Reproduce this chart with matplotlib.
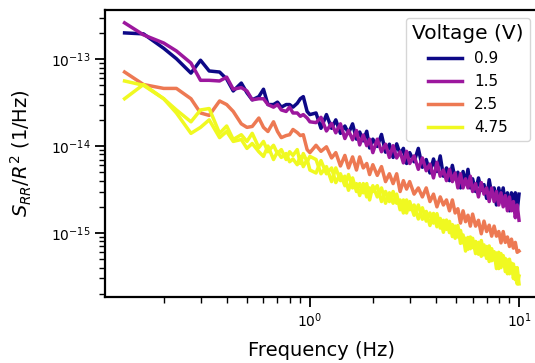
import numpy as np
import matplotlib
matplotlib.use('Agg')
from matplotlib import pyplot as plt

# frequency grid (Hz)
freq = [0.13, 0.16, 0.2, 0.23, 0.27, 0.3, 0.33, 0.37, 0.4, 0.43, 0.47, 0.5, 0.53, 0.57,
        0.6, 0.63, 0.67, 0.7, 0.73, 0.77, 0.8, 0.83, 0.87, 0.9, 0.93, 0.97, 1.0,
        1.07, 1.13, 1.2, 1.27, 1.33, 1.4, 1.47, 1.53, 1.6, 1.67, 1.73, 1.8, 1.87, 1.93, 2.0,
        2.1, 2.2, 2.3, 2.4, 2.5, 2.6, 2.7, 2.8, 2.9, 3.0,
        3.15, 3.3, 3.45, 3.6, 3.75, 3.9, 4.05, 4.2, 4.35, 4.5, 4.65, 4.8, 4.95, 5.1,
        5.25, 5.4, 5.55, 5.7, 5.85, 6.0,
        6.2, 6.4, 6.6, 6.8, 7.0, 7.2, 7.4, 7.6, 7.8, 8.0, 8.2, 8.4, 8.6, 8.8, 9.0,
        9.2, 9.4, 9.6, 9.8, 10.0]

# normalised noise spectra, in units of 1e-15 1/Hz
s_09 = [200, 195, 133, 101, 69, 97, 73, 71, 59, 43, 53, 41, 34, 37,
        45, 30, 30, 32, 28, 30, 30, 28, 31, 35, 37, 25, 23,
        24, 16, 23, 16, 20, 14, 17, 14, 18, 12, 14.5, 11.5, 14.8, 9.5, 12,
        9.9, 13.6, 8.5, 10.5, 7.4, 10.6, 8.1, 9.4, 6.3, 8.4,
        6.6, 9.4, 5.7, 7.0, 4.9, 7.1, 5.1, 7.7, 4.5, 5.6, 4.0, 6.0, 4.2, 5.0,
        3.3, 5.1, 3.7, 5.4, 3.3, 4.2,
        3.0, 4.3, 3.1, 3.6, 2.5, 4.1, 2.8, 3.3, 2.1, 3.3, 2.4, 3.3, 2.1, 2.9, 1.8,
        2.9, 2.0, 2.9, 1.8, 2.8]

s_15 = [261, 190, 153, 124, 90, 57, 57, 56, 62, 45, 47, 43, 34, 35,
        35, 30, 28, 30, 26, 25, 28, 24, 24, 22, 23, 21, 19,
        18.6, 21.4, 14.9, 18.2, 14.2, 18, 12.2, 15.1, 11.8, 15.1, 10.3, 13.4, 10.1, 12, 8.4,
        12, 8.6, 10.5, 7.4, 10.1, 7.3, 8.6, 6.4, 8.7, 6.3,
        7.7, 5.4, 7.3, 5.2, 6.2, 4.3, 6.5, 4.5, 5.3, 4.0, 5.4, 3.9, 4.9, 3.3,
        4.8, 3.3, 4.2, 3.3, 4.5, 3.0,
        3.7, 2.6, 3.8, 2.8, 3.3, 2.3, 3.3, 2.3, 3.0, 2.1, 2.9, 2.0, 2.7, 1.8, 2.6,
        1.8, 2.3, 1.5, 2.1, 1.4]

s_25 = [71, 51, 46, 46, 35, 24, 22.5, 33, 30, 25, 18, 16.4, 16.8, 21,
        16.4, 14.7, 19, 14.7, 12.5, 13.2, 13.5, 15.5, 14.3, 13.2, 13.5, 9.1, 8.4,
        10.2, 8.7, 9.8, 7.3, 8.4, 5.9, 7.8, 5.6, 7.5, 5.3, 7.5, 5.6, 6.3, 4.7, 6.1,
        4.6, 5.8, 3.9, 4.8, 3.7, 4.8, 3.0, 4.0, 3.2, 3.9,
        2.8, 3.3, 2.6, 3.3, 2.3, 2.8, 2.0, 2.6, 2.1, 2.4, 1.8, 2.4, 1.7, 1.9,
        1.3, 1.8, 1.35, 1.6, 1.2, 1.65,
        1.2, 1.4, 0.98, 1.37, 1.04, 1.23, 0.92, 1.2, 0.92, 1.04, 0.77, 1.04, 0.78, 0.9, 0.7,
        0.85, 0.67, 0.78, 0.6, 0.62]

s_475a = [56, 50, 35, 24, 14, 16.4, 20, 12.5, 14.7, 11.3, 11.9, 9.4, 10.7, 8.6,
          7.6, 10, 7.0, 8.6, 7.4, 8.2, 6.6, 7.1, 6.1, 7.6, 5.8, 7.0, 5.3,
          4.9, 6.8, 4.8, 5.6, 3.8, 4.8, 3.5, 4.7, 3.3, 3.7, 2.7, 3.7, 2.6, 3.3, 3.0,
          3.5, 2.3, 3.0, 2.3, 3.0, 2.2, 2.4, 1.7, 2.4, 1.85,
          2.1, 1.45, 1.95, 1.37, 1.7, 1.3, 1.67, 1.14, 1.4, 1.1, 1.36, 0.91, 1.2, 0.9,
          1.07, 0.77, 0.87, 0.65, 0.9, 0.68,
          0.8, 0.57, 0.82, 0.56, 0.7, 0.47, 0.66, 0.49, 0.59, 0.39, 0.58, 0.42, 0.51, 0.34, 0.5,
          0.35, 0.44, 0.29, 0.4, 0.26]

s_475b = [35, 51, 35, 26, 19, 26, 27, 14, 17, 11.9, 13.5, 11.3, 14, 9.6,
          11.3, 8.6, 10.2, 8.2, 9.1, 7.0, 8.6, 7.8, 9.1, 6.3, 8.2, 6.6, 7.6,
          7.0, 4.8, 5.8, 3.9, 5.6, 4.0, 4.5, 3.1, 4.3, 3.0, 3.7, 2.9, 3.7, 2.4, 3.5,
          2.6, 3.3, 2.2, 2.9, 2.2, 2.8, 1.85, 2.4, 1.7, 2.3,
          1.6, 2.1, 1.44, 1.77, 1.22, 1.68, 1.18, 1.47, 1.02, 1.41, 1.01, 1.25, 0.87, 1.22,
          0.76, 0.95, 0.62, 0.89, 0.66, 0.87,
          0.58, 0.78, 0.54, 0.73, 0.51, 0.71, 0.48, 0.61, 0.39, 0.6, 0.4, 0.55, 0.36, 0.49, 0.34,
          0.45, 0.3, 0.4, 0.26, 0.32]

voltages = ['0.9', '1.5', '2.5', '4.75']

plt.rcParams['font.family'] = 'DejaVu Sans'
colors = plt.cm.plasma(np.linspace(0, 1, 4))

fig = plt.figure(figsize=(5.35, 3.63), dpi=100)
ax = fig.add_axes([0.196, 0.182, 0.811, 0.791])

f = np.array(freq)
series = [s_09, s_15, s_25, s_475a]
for s, v, c in zip(series, voltages, colors):
    ax.plot(f, np.array(s) * 1e-15, color=c, lw=2.5, label=v)
# second 4.75 V trace, same colour, not in the legend
ax.plot(f, np.array(s_475b) * 1e-15, color=colors[3], lw=2.5, label='_nolegend_')

ax.set_xscale('log')
ax.set_yscale('log')
ax.set_xlabel('Frequency (Hz)', fontsize=14, labelpad=8)
ax.set_ylabel(r'$S_{RR}/R^2$ (1/Hz)', fontsize=14, labelpad=12)
ax.tick_params(which='major', length=7, width=1.3, labelsize=10)
ax.tick_params(which='minor', length=4, width=1.0)
for sp in ax.spines.values():
    sp.set_linewidth(1.6)
ax.spines['right'].set_visible(False)

leg = ax.legend(title='Voltage (V)', fontsize=11, title_fontsize=14.5,
                loc='upper right', bbox_to_anchor=(530 / 535, 1 - 18 / 363),
                bbox_transform=fig.transFigure, borderaxespad=0,
                handlelength=2.2, labelspacing=0.52)

fig.savefig('out.png', dpi=100)
